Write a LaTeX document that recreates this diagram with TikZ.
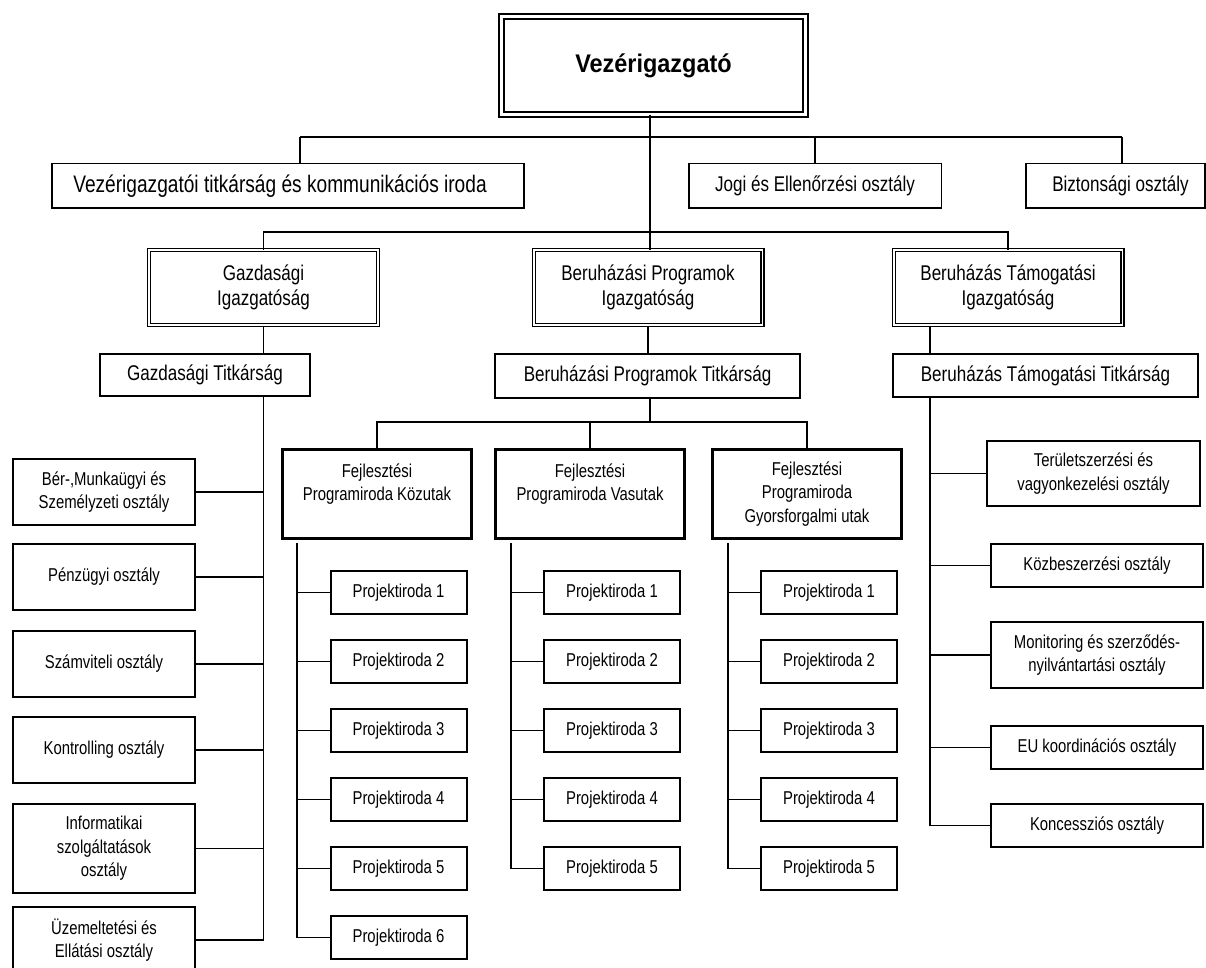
\documentclass[tikz,border=0pt]{standalone}
\usepackage{fontspec}
\setmainfont{Liberation Sans}[FakeStretch=0.8]
\newfontfamily\vezfont{Liberation Sans}[FakeStretch=0.92]
\newcommand\fntS{\fontsize{18.6}{23.5}\selectfont}
\newcommand\fntM{\fontsize{21.3}{25.5}\selectfont}
\newcommand\fntL{\fontsize{23.9}{28}\selectfont}
\newcommand\fntV{\vezfont\bfseries\fontsize{25.5}{30}\selectfont}
\begin{document}
\begin{tikzpicture}[x=1pt,y=-1pt,
  conn/.style={line width=1.8pt},
  base/.style={draw, inner sep=0pt, align=center},
  vezbox/.style={base, double, double distance=3pt, line width=2pt,
    minimum width=304pt, minimum height=98pt, font=\fntV},
  topbox/.style={base, line width=1.5pt, minimum height=44.5pt, font=\fntM},
  dirbox/.style={base, double, double distance=1.6pt, line width=1.4pt,
    minimum width=228.6pt, minimum height=74.6pt, font=\fntM},
  secbox/.style={base, line width=2pt, minimum height=43pt, font=\fntM},
  fejbox/.style={base, line width=2.7pt, minimum width=189pt, minimum height=89pt, font=\fntS},
  pbox/.style={base, line width=2pt, minimum width=136pt, minimum height=43pt, font=\fntS},
  lbox/.style={base, line width=2pt, minimum width=182pt, font=\fntS},
  rbox/.style={base, line width=2pt, minimum width=212pt, font=\fntS},
]
\useasboundingbox (0,0) rectangle (1206,968);
\fill[white] (0,0) rectangle (1206,968);

% top
\node[vezbox] (vez) at (653.5,65.5) {Vezérigazgató};
\node[topbox, minimum width=472pt, font=\fntL] (vti) at (288,186) {Vezérigazgatói titkárság és kommunikációs iroda\kern16pt};
\node[topbox, minimum width=252.5pt] (jogi) at (815,186) {Jogi és Ellenőrzési osztály};
\node[topbox, minimum width=179pt] (bizt) at (1115.5,186) {\kern10pt Biztonsági osztály};

% directorates
\node[dirbox] (gi) at (263.5,287.5) {Gazdasági\\Igazgatóság};
\node[dirbox] (bpi) at (648,287.5) {Beruházási Programok\\Igazgatóság};
\node[dirbox] (bti) at (1008,287.5) {Beruházás Támogatási\\Igazgatóság};

% secretariats
\node[secbox, minimum width=210pt, minimum height=42pt] (gt) at (205,375) {Gazdasági Titkárság};
\node[secbox, minimum width=305pt, minimum height=44pt] (bpt) at (647.5,376) {Beruházási Programok Titkárság};
\node[secbox, minimum width=305pt] (btt) at (1045.5,375.5) {Beruházás Támogatási Titkárság};

% program offices
\node[fejbox] (fk) at (377,494) {Fejlesztési\\Programiroda Közutak\\\phantom{X}};
\node[fejbox] (fv) at (590,494) {Fejlesztési\\Programiroda Vasutak\\\phantom{X}};
\node[fejbox] (fg) at (807,494) {Fejlesztési\\Programiroda\\Gyorsforgalmi utak};

% left departments
\node[lbox, minimum height=66pt] (ber) at (104,492) {Bér-,Munkaügyi és\\Személyzeti osztály};
\node[lbox, minimum height=66pt] (penz) at (104,577) {Pénzügyi osztály};
\node[lbox, minimum height=66pt] (szam) at (104,664) {Számviteli osztály};
\node[lbox, minimum height=66pt] (kont) at (104,750) {Kontrolling osztály};
\node[lbox, minimum height=89pt] (info) at (104,848.5) {Informatikai\\szolgáltatások\\osztály};
\node[lbox, minimum height=66pt] (ue) at (104,940) {Üzemeltetési és\\Ellátási osztály};

% right departments
\node[rbox, minimum width=213pt, minimum height=65pt] (ter) at (1093.5,473.5) {Területszerzési és\\vagyonkezelési osztály};
\node[rbox, minimum height=43pt] (kozb) at (1097,565.5) {Közbeszerzési osztály};
\node[rbox, minimum height=66pt] (mon) at (1097,655) {Monitoring és szerződés-\\nyilvántartási osztály};
\node[rbox, minimum height=43pt] (eu) at (1097,747.5) {EU koordinációs osztály};
\node[rbox, minimum height=43pt] (konc) at (1097,825.5) {Koncessziós osztály};

% project offices
\foreach \i in {1,...,6}{
  \pgfmathsetmacro\yy{592.5+69*(\i-1)}
  \node[pbox] (kp\i) at (398.5,\yy) {Projektiroda \i};
}
\foreach \i in {1,...,5}{
  \pgfmathsetmacro\yy{592.5+69*(\i-1)}
  \node[pbox] (vp\i) at (612,\yy) {Projektiroda \i};
  \node[pbox] (gp\i) at (829,\yy) {Projektiroda \i};
}

% connector coordinates
\coordinate (trunk) at (650,0);
\coordinate (c1) at (300,137);
\coordinate (c4) at (1122,137);
\coordinate (bus2) at (650,232);
\coordinate (bus3) at (650,422);
\coordinate (ks) at (297,543);
\coordinate (vs) at (511,543);
\coordinate (gs) at (728,543);
\coordinate (bs) at (930,0);

% top level
\draw[conn] (trunk |- vez.south) -- (trunk |- bpi.north);
\draw[conn] (c1) -- (c4);
\draw[conn] (c1) -- (c1 |- vti.north);
\draw[conn] (jogi.north) -- (jogi.north |- c1);
\draw[conn] (c4) -- (c4 |- bizt.north);
\draw[conn] (gi.north) |- (bus2) -| (bti.north);

% economic
\draw[conn] (gi.south) -- (gi.south |- gt.north);
\draw[conn] (gi.south |- gt.south) |- (ue.east);
\foreach \n in {ber,penz,szam,kont,info}{
  \draw[conn] (\n.east) -- (\n.east -| gi.south);
}

% investment programs
\draw[conn] (bpi.south) -- (bpi.south |- bpt.north);
\draw[conn] (trunk |- bpt.south) -- (trunk |- bus3);
\draw[conn] (fk.north) |- (bus3) -| (fg.north);
\draw[conn] (fv.north) -- (fv.north |- bus3);
\draw[conn] (ks) |- (kp6.west);
\foreach \i in {1,...,5}{
  \draw[conn] (kp\i.west) -- (kp\i.west -| ks);
  \draw[conn] (vp\i.west) -- (vp\i.west -| vs);
  \draw[conn] (gp\i.west) -- (gp\i.west -| gs);
}
\draw[conn] (vs) |- (vp5.west);
\draw[conn] (gs) |- (gp5.west);

% support
\draw[conn] (bs |- bti.south) -- (bs |- btt.north);
\draw[conn] (bs |- btt.south) |- (konc.west);
\foreach \n in {ter,kozb,mon,eu}{
  \draw[conn] (\n.west) -- (\n.west -| bs);
}
\end{tikzpicture}
\end{document}
